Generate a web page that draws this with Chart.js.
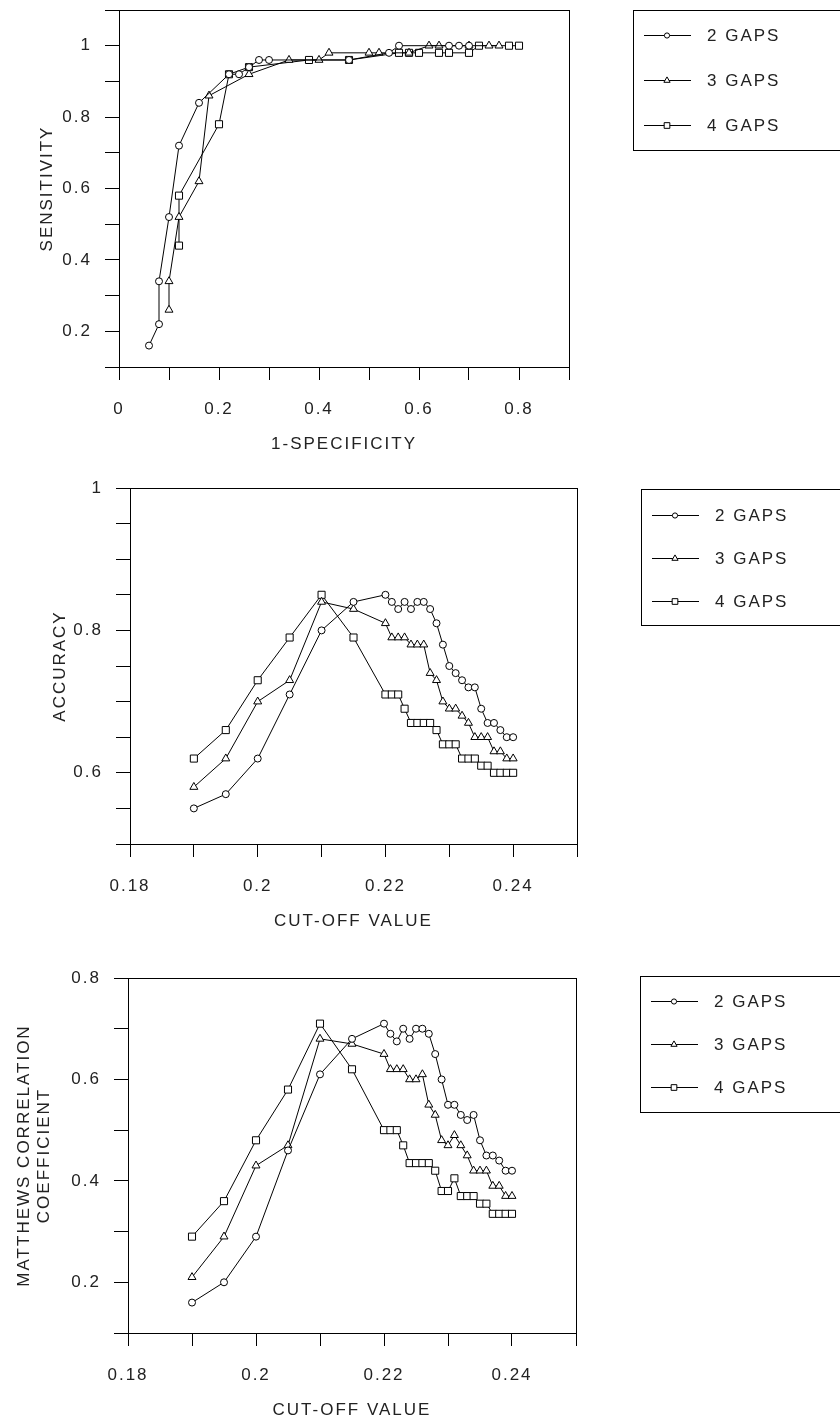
<!DOCTYPE html>
<html>
<head>
<meta charset="utf-8">
<script src="https://cdn.jsdelivr.net/npm/chart.js@4.4.1/dist/chart.umd.min.js"></script>
<style>
  html, body { margin: 0; padding: 0; background: #fff; }
  body { width: 840px; height: 1423px; position: relative; overflow: hidden; }
  canvas { position: absolute; left: 0; }
</style>
</head>
<body>
<canvas id="rocChart" width="840" height="470" style="top:0px"></canvas>
<canvas id="accChart" width="840" height="480" style="top:470px"></canvas>
<canvas id="mccChart" width="840" height="473" style="top:950px"></canvas>
<script>
const seriesNames = ['2 GAPS', '3 GAPS', '4 GAPS'];
const markers = ['circle', 'triangle', 'rect'];

// ROC curve: 1-specificity (x) vs sensitivity (y)
const roc2X = [0.06, 0.08, 0.08, 0.10, 0.12, 0.16, 0.22, 0.24, 0.26, 0.28, 0.30, 0.46, 0.54, 0.56, 0.66, 0.68, 0.70];
const roc2Y = [0.16, 0.22, 0.34, 0.52, 0.72, 0.84, 0.92, 0.92, 0.94, 0.96, 0.96, 0.96, 0.98, 1.00, 1.00, 1.00, 1.00];
const roc3X = [0.10, 0.10, 0.12, 0.16, 0.18, 0.26, 0.34, 0.40, 0.42, 0.50, 0.52, 0.58, 0.62, 0.64, 0.70, 0.74, 0.76];
const roc3Y = [0.26, 0.34, 0.52, 0.62, 0.86, 0.92, 0.96, 0.96, 0.98, 0.98, 0.98, 0.98, 1.00, 1.00, 1.00, 1.00, 1.00];
const roc4X = [0.12, 0.12, 0.20, 0.22, 0.26, 0.38, 0.46, 0.56, 0.58, 0.60, 0.64, 0.66, 0.70, 0.72, 0.78, 0.80];
const roc4Y = [0.44, 0.58, 0.78, 0.92, 0.94, 0.96, 0.96, 0.98, 0.98, 0.98, 0.98, 0.98, 0.98, 1.00, 1.00, 1.00];

// cut-off values shared by the accuracy and MCC plots
const cutoff = [0.19, 0.195, 0.2, 0.205, 0.21, 0.215, 0.22, 0.221, 0.222, 0.223, 0.224, 0.225, 0.226, 0.227,
                0.228, 0.229, 0.23, 0.231, 0.232, 0.233, 0.234, 0.235, 0.236, 0.237, 0.238, 0.239, 0.24];

const acc2 = [0.55, 0.57, 0.62, 0.71, 0.80, 0.84, 0.85, 0.84, 0.83, 0.84, 0.83, 0.84, 0.84, 0.83,
              0.81, 0.78, 0.75, 0.74, 0.73, 0.72, 0.72, 0.69, 0.67, 0.67, 0.66, 0.65, 0.65];
const acc3 = [0.58, 0.62, 0.70, 0.73, 0.84, 0.83, 0.81, 0.79, 0.79, 0.79, 0.78, 0.78, 0.78, 0.74,
              0.73, 0.70, 0.69, 0.69, 0.68, 0.67, 0.65, 0.65, 0.65, 0.63, 0.63, 0.62, 0.62];
const acc4 = [0.62, 0.66, 0.73, 0.79, 0.85, 0.79, 0.71, 0.71, 0.71, 0.69, 0.67, 0.67, 0.67, 0.67,
              0.66, 0.64, 0.64, 0.64, 0.62, 0.62, 0.62, 0.61, 0.61, 0.60, 0.60, 0.60, 0.60];

const mcc2 = [0.16, 0.20, 0.29, 0.46, 0.61, 0.68, 0.71, 0.69, 0.675, 0.70, 0.68, 0.70, 0.70, 0.69,
              0.65, 0.60, 0.55, 0.55, 0.53, 0.52, 0.53, 0.48, 0.45, 0.45, 0.44, 0.42, 0.42];
const mcc3 = [0.21, 0.29, 0.43, 0.47, 0.68, 0.67, 0.65, 0.62, 0.62, 0.62, 0.60, 0.60, 0.61, 0.55,
              0.53, 0.48, 0.47, 0.49, 0.47, 0.45, 0.42, 0.42, 0.42, 0.39, 0.39, 0.37, 0.37];
const mcc4 = [0.29, 0.36, 0.48, 0.58, 0.71, 0.62, 0.50, 0.50, 0.50, 0.47, 0.435, 0.435, 0.435, 0.435,
              0.42, 0.38, 0.38, 0.405, 0.37, 0.37, 0.37, 0.355, 0.355, 0.335, 0.335, 0.335, 0.335];

// labelled ticks (the other ticks are drawn without a label)
const rocXTicks = ['0', '0.2', '0.4', '0.6', '0.8'];
const rocYTicks = ['0.2', '0.4', '0.6', '0.8', '1'];
const cutTicks = ['0.18', '0.2', '0.22', '0.24'];
const accYTicks = ['0.6', '0.8', '1'];
const mccYTicks = ['0.2', '0.4', '0.6', '0.8'];

const FONT = "'Liberation Sans', Arial, sans-serif";
const TXT = '#222';
const markerRadius = { circle: 3.5, triangle: 4.6, rect: 5 };
const legendRadius = { circle: 2.6, triangle: 3.6, rect: 4 };

function pts(xs, ys) {
  return xs.map((x, i) => ({ x: x, y: ys[i] }));
}

function makeDatasets(series) {
  return series.map((s, i) => ({
    label: seriesNames[i],
    data: s,
    showLine: true,
    borderColor: '#000',
    borderWidth: 1,
    pointStyle: markers[i],
    pointRadius: markerRadius[markers[i]],
    pointHoverRadius: markerRadius[markers[i]],
    pointBorderWidth: 1,
    pointBorderColor: '#000',
    pointBackgroundColor: '#fff'
  }));
}

function labelFrom(list) {
  return (v) => {
    const s = String(+v.toFixed(3));
    return list.indexOf(s) >= 0 ? s : '';
  };
}

// old plotting package look: spaced-out letters
const spacing = {
  id: 'spacing',
  beforeUpdate(chart) { chart.ctx.letterSpacing = '2px'; },
  beforeDraw(chart) { chart.ctx.letterSpacing = '2px'; }
};

// box round the plot area and the boxed legend to the right
const frameLegend = {
  id: 'frameLegend',
  afterDatasetsDraw(chart, args, opts) {
    const ctx = chart.ctx;
    const a = chart.chartArea;
    ctx.save();
    ctx.strokeStyle = '#000';
    ctx.lineWidth = 1;
    ctx.strokeRect(Math.round(a.left) + 0.5, Math.round(a.top) + 0.5,
                   Math.round(a.right - a.left), Math.round(a.bottom - a.top));
    ctx.strokeRect(opts.left + 0.5, opts.top + 0.5, 400, opts.height);
    chart.data.datasets.forEach((ds, i) => {
      const y = opts.top + opts.first + i * opts.gap;
      ctx.strokeStyle = '#000';
      ctx.beginPath();
      ctx.moveTo(opts.left + 11, y + 0.5);
      ctx.lineTo(opts.left + 58, y + 0.5);
      ctx.stroke();
      ctx.fillStyle = '#fff';
      Chart.helpers.drawPoint(ctx, {
        pointStyle: ds.pointStyle, radius: legendRadius[ds.pointStyle], borderWidth: 1, rotation: 0
      }, opts.left + 34, y + 0.5);
      ctx.fillStyle = TXT;
      ctx.font = '17px ' + FONT;
      ctx.textBaseline = 'middle';
      ctx.textAlign = 'left';
      ctx.fillText(ds.label, opts.left + 74, y + 1);
    });
    ctx.restore();
  }
};

function makeChart(id, box, xs, ys, legend) {
  const H = document.getElementById(id).height;
  const font = { family: FONT, size: 17 };
  const lh = 17 * 1.2;
  return new Chart(document.getElementById(id), {
    type: 'scatter',
    data: { datasets: makeDatasets(box.series) },
    options: {
      responsive: false,
      animation: false,
      events: [],
      layout: { padding: { left: 0, top: box.top, right: 840 - box.right, bottom: 0 } },
      plugins: {
        legend: { display: false },
        tooltip: { enabled: false },
        frameLegend: legend
      },
      scales: {
        x: {
          type: 'linear',
          min: xs.min, max: xs.max,
          ticks: {
            stepSize: xs.step, autoSkip: false, maxRotation: 0, minRotation: 0,
            padding: 19, color: TXT, font: font, callback: labelFrom(xs.labels)
          },
          grid: { drawOnChartArea: false, drawTicks: true, tickLength: 13, tickColor: '#000', tickWidth: 1 },
          border: { display: true, color: '#000', width: 1 },
          title: {
            display: true, text: xs.title, color: TXT, font: font,
            padding: { top: 0, bottom: H - (box.bottom + 77) - lh / 2 }
          },
          afterFit: (s) => {
            s.height = H - box.bottom;
            s.paddingLeft = 0;
            s.paddingRight = 0;
          }
        },
        y: {
          type: 'linear',
          min: ys.min, max: ys.max,
          ticks: {
            stepSize: ys.step, autoSkip: false,
            padding: 13, color: TXT, font: font, callback: labelFrom(ys.labels)
          },
          grid: { drawOnChartArea: false, drawTicks: true, tickLength: 14, tickColor: '#000', tickWidth: 1 },
          border: { display: true, color: '#000', width: 1 },
          title: {
            display: true, text: ys.title, color: TXT, font: font,
            padding: { top: ys.titleX - lh / 2, bottom: 0 }
          },
          afterFit: (s) => {
            s.width = box.left;
            s.paddingTop = 0;
            s.paddingBottom = 0;
          }
        }
      }
    },
    plugins: [spacing, frameLegend]
  });
}

makeChart('rocChart',
  { left: 119, right: 569, top: 10, bottom: 367,
    series: [pts(roc2X, roc2Y), pts(roc3X, roc3Y), pts(roc4X, roc4Y)] },
  { min: 0, max: 0.9, step: 0.1, labels: rocXTicks, title: '1-SPECIFICITY' },
  { min: 0.1, max: 1.1, step: 0.1, labels: rocYTicks, title: 'SENSITIVITY', titleX: 47 },
  { left: 633, top: 10, height: 140, first: 25, gap: 45 });

makeChart('accChart',
  { left: 130, right: 577, top: 18, bottom: 374,
    series: [pts(cutoff, acc2), pts(cutoff, acc3), pts(cutoff, acc4)] },
  { min: 0.18, max: 0.25, step: 0.01, labels: cutTicks, title: 'CUT-OFF VALUE' },
  { min: 0.5, max: 1.0, step: 0.05, labels: accYTicks, title: 'ACCURACY', titleX: 60 },
  { left: 641, top: 19, height: 136, first: 26, gap: 43 });

makeChart('mccChart',
  { left: 128, right: 576, top: 28, bottom: 383,
    series: [pts(cutoff, mcc2), pts(cutoff, mcc3), pts(cutoff, mcc4)] },
  { min: 0.18, max: 0.25, step: 0.01, labels: cutTicks, title: 'CUT-OFF VALUE' },
  { min: 0.1, max: 0.8, step: 0.1, labels: mccYTicks, title: ['MATTHEWS CORRELATION', 'COEFFICIENT'], titleX: 24 },
  { left: 640, top: 26, height: 136, first: 25, gap: 43 });
</script>
</body>
</html>
